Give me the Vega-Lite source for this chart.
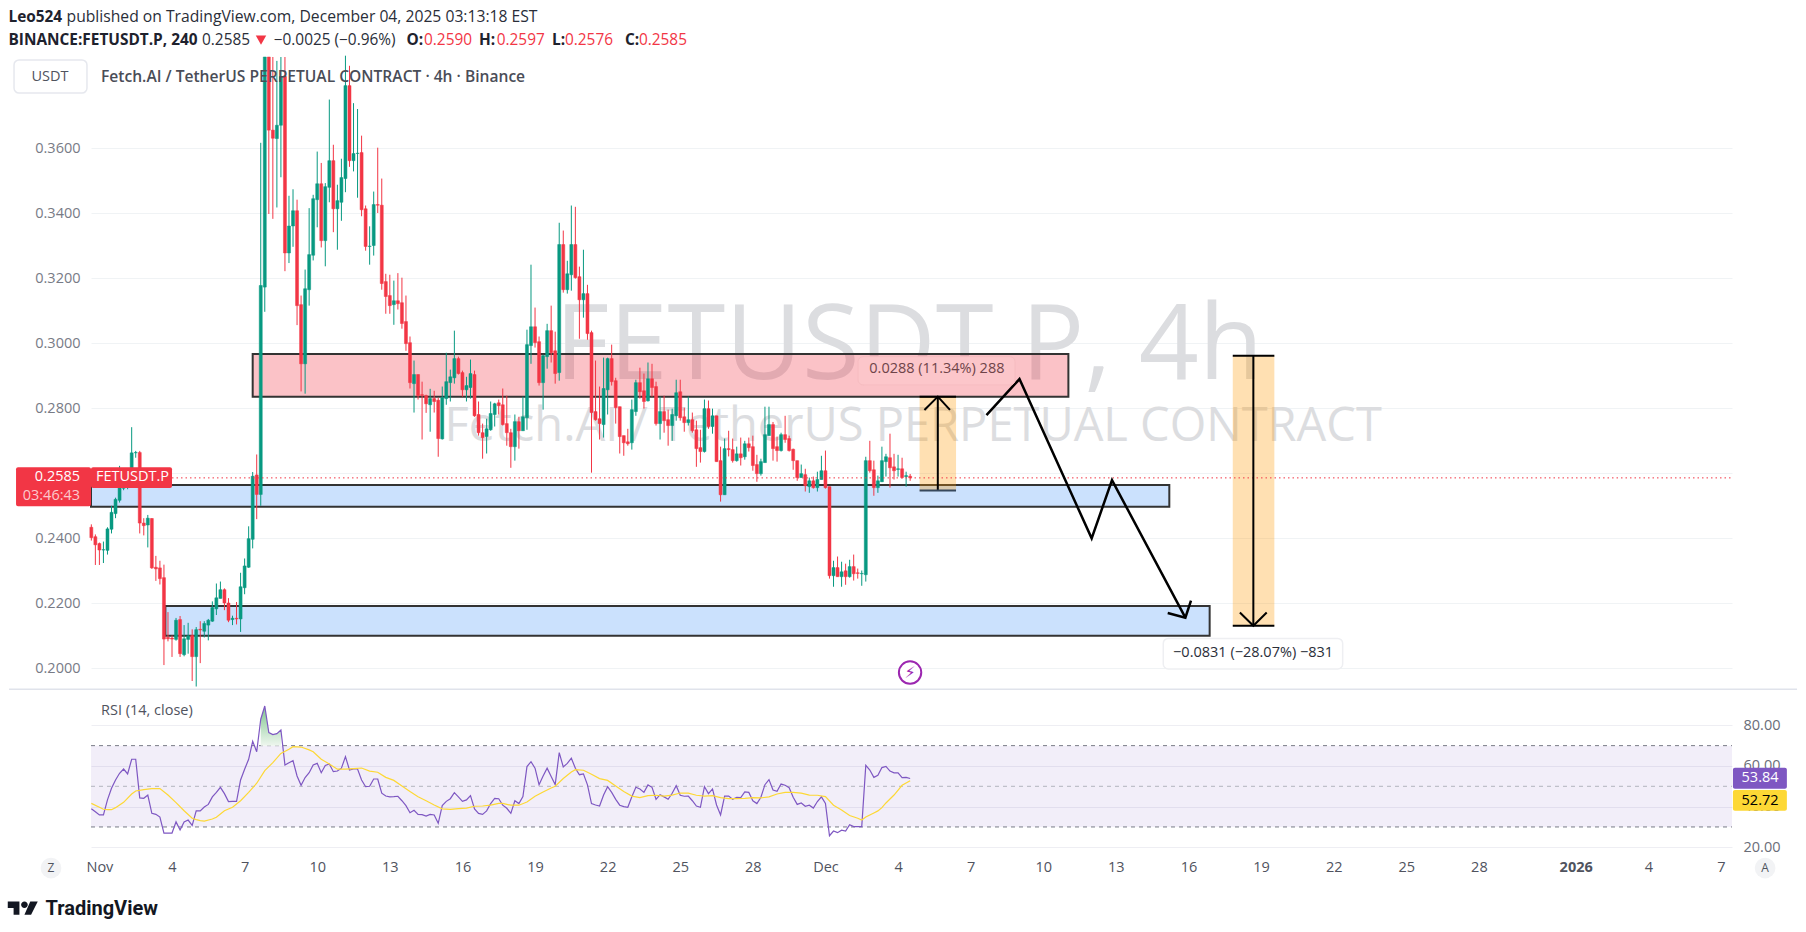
{
"$schema":"https://vega.github.io/schema/vega-lite/v6.json",
"description":"FETUSDT.P 4h candles with RSI and drawn zones",
"width":1641,"height":932,"autosize":"none",
"padding":{"left":91,"right":74,"top":0,"bottom":0},
"background":"#ffffff",
"config":{"view":{"stroke":null},"font":"Open Sans"},
"datasets":{"bars":[
{"t":"2025-10-31T16:00","o":0.2433,"h":0.2442,"l":0.2392,"c":0.2401,"rsi":39.0,"ma":41.6},
{"t":"2025-10-31T20:00","o":0.2404,"h":0.2411,"l":0.2317,"c":0.2379,"rsi":37.5},
{"t":"2025-11-01T00:00","o":0.2383,"h":0.2386,"l":0.2317,"c":0.2363,"rsi":35.9,"ma":39.7},
{"t":"2025-11-01T04:00","o":0.2363,"h":0.2389,"l":0.2323,"c":0.2364,"rsi":35.9,"ma":38.7},
{"t":"2025-11-01T08:00","o":0.2362,"h":0.2433,"l":0.2349,"c":0.2428,"rsi":43.3,"ma":38.5},
{"t":"2025-11-01T12:00","o":0.2427,"h":0.2499,"l":0.2414,"c":0.2479,"rsi":49.0,"ma":38.5},
{"t":"2025-11-01T16:00","o":0.2475,"h":0.2524,"l":0.2461,"c":0.2519,"rsi":53.1,"ma":39.5},
{"t":"2025-11-01T20:00","o":0.2516,"h":0.2622,"l":0.2509,"c":0.2559,"rsi":56.4},
{"t":"2025-11-02T00:00","o":0.2553,"h":0.2565,"l":0.2547,"c":0.2557,"rsi":58.5,"ma":42.1},
{"t":"2025-11-02T04:00","o":0.2557,"h":0.2607,"l":0.2550,"c":0.2597,"rsi":56.1},
{"t":"2025-11-02T08:00","o":0.2597,"h":0.2741,"l":0.2594,"c":0.2662,"rsi":63.3,"ma":46.2},
{"t":"2025-11-02T12:00","o":0.2662,"h":0.2668,"l":0.2647,"c":0.2663,"rsi":63.3,"ma":47.7},
{"t":"2025-11-02T16:00","o":0.2663,"h":0.2668,"l":0.2414,"c":0.2446,"rsi":44.3},
{"t":"2025-11-02T20:00","o":0.2446,"h":0.2461,"l":0.2408,"c":0.2438,"rsi":44.1,"ma":48.4},
{"t":"2025-11-03T00:00","o":0.2440,"h":0.2471,"l":0.2371,"c":0.2461,"rsi":45.7},
{"t":"2025-11-03T04:00","o":0.2460,"h":0.2461,"l":0.2305,"c":0.2308,"rsi":36.7,"ma":48.9},
{"t":"2025-11-03T08:00","o":0.2310,"h":0.2345,"l":0.2268,"c":0.2305,"rsi":36.2},
{"t":"2025-11-03T12:00","o":0.2308,"h":0.2330,"l":0.2257,"c":0.2275,"rsi":34.9,"ma":48.9},
{"t":"2025-11-03T16:00","o":0.2278,"h":0.2318,"l":0.2009,"c":0.2089,"rsi":27.0},
{"t":"2025-11-03T20:00","o":0.2094,"h":0.2172,"l":0.2082,"c":0.2090,"rsi":27.0,"ma":45.7},
{"t":"2025-11-04T00:00","o":0.2092,"h":0.2100,"l":0.2034,"c":0.2089,"rsi":27.0},
{"t":"2025-11-04T04:00","o":0.2088,"h":0.2154,"l":0.2084,"c":0.2147,"rsi":32.5,"ma":42.0},
{"t":"2025-11-04T08:00","o":0.2149,"h":0.2160,"l":0.2034,"c":0.2044,"rsi":28.5},
{"t":"2025-11-04T12:00","o":0.2041,"h":0.2132,"l":0.2036,"c":0.2090,"rsi":32.5,"ma":38.0},
{"t":"2025-11-04T16:00","o":0.2088,"h":0.2139,"l":0.2044,"c":0.2099,"rsi":33.4},
{"t":"2025-11-04T20:00","o":0.2100,"h":0.2119,"l":0.1960,"c":0.2035,"rsi":30.8,"ma":34.3},
{"t":"2025-11-05T00:00","o":0.2035,"h":0.2126,"l":0.1943,"c":0.2118,"rsi":37.9,"ma":33.6},
{"t":"2025-11-05T04:00","o":0.2119,"h":0.2144,"l":0.2015,"c":0.2117,"rsi":37.9,"ma":33.1},
{"t":"2025-11-05T08:00","o":0.2113,"h":0.2144,"l":0.2094,"c":0.2137,"rsi":39.8,"ma":32.9},
{"t":"2025-11-05T12:00","o":0.2132,"h":0.2151,"l":0.2085,"c":0.2147,"rsi":41.1},
{"t":"2025-11-05T16:00","o":0.2144,"h":0.2205,"l":0.2142,"c":0.2186,"rsi":44.8,"ma":33.9},
{"t":"2025-11-05T20:00","o":0.2182,"h":0.2260,"l":0.2163,"c":0.2216,"rsi":47.0,"ma":34.8},
{"t":"2025-11-06T00:00","o":0.2214,"h":0.2266,"l":0.2214,"c":0.2241,"rsi":49.5},
{"t":"2025-11-06T04:00","o":0.2241,"h":0.2245,"l":0.2178,"c":0.2200,"rsi":46.4,"ma":38.0},
{"t":"2025-11-06T08:00","o":0.2200,"h":0.2215,"l":0.2141,"c":0.2147,"rsi":42.5},
{"t":"2025-11-06T12:00","o":0.2149,"h":0.2161,"l":0.2132,"c":0.2153,"rsi":42.6,"ma":39.7},
{"t":"2025-11-06T16:00","o":0.2153,"h":0.2203,"l":0.2134,"c":0.2151,"rsi":42.6},
{"t":"2025-11-06T20:00","o":0.2151,"h":0.2293,"l":0.2111,"c":0.2250,"rsi":53.1,"ma":42.9},
{"t":"2025-11-07T00:00","o":0.2247,"h":0.2337,"l":0.2227,"c":0.2314,"rsi":58.4},
{"t":"2025-11-07T04:00","o":0.2310,"h":0.2436,"l":0.2308,"c":0.2398,"rsi":63.3,"ma":47.0},
{"t":"2025-11-07T08:00","o":0.2396,"h":0.2603,"l":0.2368,"c":0.2590,"rsi":72.1},
{"t":"2025-11-07T12:00","o":0.2594,"h":0.2657,"l":0.2458,"c":0.2534,"rsi":67.0,"ma":51.5},
{"t":"2025-11-07T16:00","o":0.2534,"h":0.3616,"l":0.2499,"c":0.3177,"rsi":83.0},
{"t":"2025-11-07T20:00","o":0.3172,"h":0.388,"l":0.3096,"c":0.388,"rsi":89.5,"ma":57.7},
{"t":"2025-11-08T00:00","o":0.388,"h":0.388,"l":0.3397,"c":0.3655,"rsi":76.4},
{"t":"2025-11-08T04:00","o":0.3655,"h":0.388,"l":0.3382,"c":0.3630,"rsi":75.4,"ma":61.6},
{"t":"2025-11-08T08:00","o":0.3629,"h":0.3868,"l":0.3417,"c":0.3670,"rsi":75.9},
{"t":"2025-11-08T12:00","o":0.3670,"h":0.388,"l":0.3510,"c":0.382,"rsi":77.7,"ma":66.2},
{"t":"2025-11-08T16:00","o":0.382,"h":0.388,"l":0.3221,"c":0.3277,"rsi":60.5},
{"t":"2025-11-08T20:00","o":0.3277,"h":0.3453,"l":0.3246,"c":0.3360,"rsi":61.6,"ma":68.2},
{"t":"2025-11-09T00:00","o":0.3360,"h":0.3473,"l":0.3296,"c":0.3407,"rsi":62.6,"ma":69.5},
{"t":"2025-11-09T04:00","o":0.3407,"h":0.3441,"l":0.3055,"c":0.3115,"rsi":55.1},
{"t":"2025-11-09T08:00","o":0.3118,"h":0.3146,"l":0.2851,"c":0.2936,"rsi":50.5,"ma":69.3},
{"t":"2025-11-09T12:00","o":0.2936,"h":0.3226,"l":0.2844,"c":0.3167,"rsi":54.3},
{"t":"2025-11-09T16:00","o":0.3164,"h":0.3415,"l":0.3115,"c":0.3272,"rsi":56.7,"ma":67.9},
{"t":"2025-11-09T20:00","o":0.3270,"h":0.3456,"l":0.3254,"c":0.3444,"rsi":60.5,"ma":67.0},
{"t":"2025-11-10T00:00","o":0.3441,"h":0.3589,"l":0.3356,"c":0.3490,"rsi":61.3},
{"t":"2025-11-10T04:00","o":0.3490,"h":0.3554,"l":0.3294,"c":0.3315,"rsi":56.7,"ma":63.3},
{"t":"2025-11-10T08:00","o":0.3315,"h":0.3492,"l":0.3236,"c":0.3481,"rsi":60.2},
{"t":"2025-11-10T12:00","o":0.3479,"h":0.3749,"l":0.3433,"c":0.3561,"rsi":61.0,"ma":61.0},
{"t":"2025-11-10T16:00","o":0.3561,"h":0.3610,"l":0.3341,"c":0.3413,"rsi":57.2},
{"t":"2025-11-10T20:00","o":0.3413,"h":0.3487,"l":0.3287,"c":0.3438,"rsi":57.5,"ma":58.4},
{"t":"2025-11-11T00:00","o":0.3433,"h":0.3567,"l":0.3376,"c":0.3509,"rsi":58.9},
{"t":"2025-11-11T04:00","o":0.3506,"h":0.3884,"l":0.3464,"c":0.3792,"rsi":64.6,"ma":58.4},
{"t":"2025-11-11T08:00","o":0.3792,"h":0.3853,"l":0.3542,"c":0.3561,"rsi":58.0},
{"t":"2025-11-11T12:00","o":0.3561,"h":0.3738,"l":0.3528,"c":0.3583,"rsi":58.5,"ma":58.7},
{"t":"2025-11-11T16:00","o":0.3583,"h":0.3720,"l":0.3447,"c":0.3584,"rsi":58.5},
{"t":"2025-11-11T20:00","o":0.3586,"h":0.3638,"l":0.3390,"c":0.3410,"rsi":53.1,"ma":59.0},
{"t":"2025-11-12T00:00","o":0.3413,"h":0.3423,"l":0.3284,"c":0.3297,"rsi":49.8},
{"t":"2025-11-12T04:00","o":0.3297,"h":0.3359,"l":0.3241,"c":0.3298,"rsi":50.0,"ma":57.5},
{"t":"2025-11-12T08:00","o":0.3300,"h":0.3466,"l":0.3269,"c":0.3426,"rsi":53.6},
{"t":"2025-11-12T12:00","o":0.3426,"h":0.3601,"l":0.3400,"c":0.3424,"rsi":53.6,"ma":56.9},
{"t":"2025-11-12T16:00","o":0.3424,"h":0.3506,"l":0.3164,"c":0.3183,"rsi":46.6},
{"t":"2025-11-12T20:00","o":0.3189,"h":0.3213,"l":0.3090,"c":0.3143,"rsi":45.2,"ma":54.4},
{"t":"2025-11-13T00:00","o":0.3146,"h":0.3210,"l":0.3090,"c":0.3115,"rsi":44.8},
{"t":"2025-11-13T04:00","o":0.3118,"h":0.3192,"l":0.3056,"c":0.3130,"rsi":44.9,"ma":52.9},
{"t":"2025-11-13T08:00","o":0.3130,"h":0.3215,"l":0.3103,"c":0.3121,"rsi":45.1},
{"t":"2025-11-13T12:00","o":0.3124,"h":0.3201,"l":0.3044,"c":0.3060,"rsi":42.9,"ma":50.2},
{"t":"2025-11-13T16:00","o":0.3066,"h":0.3146,"l":0.2976,"c":0.2998,"rsi":40.5},
{"t":"2025-11-13T20:00","o":0.3001,"h":0.3020,"l":0.2860,"c":0.2878,"rsi":37.0,"ma":47.4},
{"t":"2025-11-14T00:00","o":0.2875,"h":0.2946,"l":0.2786,"c":0.2903,"rsi":38.2},
{"t":"2025-11-14T04:00","o":0.2903,"h":0.2903,"l":0.2826,"c":0.2838,"rsi":36.2,"ma":44.9},
{"t":"2025-11-14T08:00","o":0.2841,"h":0.2881,"l":0.2703,"c":0.2839,"rsi":36.1},
{"t":"2025-11-14T12:00","o":0.2838,"h":0.2841,"l":0.2785,"c":0.2813,"rsi":35.4,"ma":42.9},
{"t":"2025-11-14T16:00","o":0.2810,"h":0.2859,"l":0.2727,"c":0.2829,"rsi":36.2},
{"t":"2025-11-14T20:00","o":0.2829,"h":0.2853,"l":0.2786,"c":0.2820,"rsi":35.9,"ma":40.8},
{"t":"2025-11-15T00:00","o":0.2824,"h":0.2832,"l":0.2650,"c":0.2706,"rsi":31.8},
{"t":"2025-11-15T04:00","o":0.2705,"h":0.2866,"l":0.2703,"c":0.2832,"rsi":40.5,"ma":38.9},
{"t":"2025-11-15T08:00","o":0.2829,"h":0.2970,"l":0.2810,"c":0.2881,"rsi":42.6},
{"t":"2025-11-15T12:00","o":0.2878,"h":0.2918,"l":0.2820,"c":0.2896,"rsi":43.9,"ma":38.7},
{"t":"2025-11-15T16:00","o":0.2893,"h":0.3038,"l":0.2875,"c":0.2952,"rsi":46.9},
{"t":"2025-11-15T20:00","o":0.2952,"h":0.2958,"l":0.2903,"c":0.2906,"rsi":44.8,"ma":39.0},
{"t":"2025-11-16T00:00","o":0.2909,"h":0.2915,"l":0.2835,"c":0.2856,"rsi":42.6},
{"t":"2025-11-16T04:00","o":0.2856,"h":0.2896,"l":0.2820,"c":0.2869,"rsi":43.3,"ma":39.3},
{"t":"2025-11-16T08:00","o":0.2863,"h":0.2949,"l":0.2829,"c":0.2906,"rsi":45.4},
{"t":"2025-11-16T12:00","o":0.2903,"h":0.2915,"l":0.2773,"c":0.2776,"rsi":38.9,"ma":40.2},
{"t":"2025-11-16T16:00","o":0.2780,"h":0.2820,"l":0.2715,"c":0.2724,"rsi":36.7},
{"t":"2025-11-16T20:00","o":0.2724,"h":0.2752,"l":0.2644,"c":0.2709,"rsi":36.2,"ma":40.3},
{"t":"2025-11-17T00:00","o":0.2712,"h":0.2767,"l":0.2660,"c":0.2736,"rsi":37.9},
{"t":"2025-11-17T04:00","o":0.2733,"h":0.2820,"l":0.2730,"c":0.2783,"rsi":41.5,"ma":40.7},
{"t":"2025-11-17T08:00","o":0.2780,"h":0.2816,"l":0.2743,"c":0.2813,"rsi":44.1},
{"t":"2025-11-17T12:00","o":0.2816,"h":0.2826,"l":0.2780,"c":0.2807,"rsi":43.9,"ma":41.6},
{"t":"2025-11-17T16:00","o":0.2810,"h":0.2860,"l":0.2746,"c":0.2749,"rsi":40.7,"ma":41.6},
{"t":"2025-11-17T20:00","o":0.2752,"h":0.2838,"l":0.2684,"c":0.2724,"rsi":39.2},
{"t":"2025-11-18T00:00","o":0.2724,"h":0.2736,"l":0.2616,"c":0.2681,"rsi":36.7,"ma":40.7},
{"t":"2025-11-18T04:00","o":0.2681,"h":0.2780,"l":0.2638,"c":0.2758,"rsi":42.9},
{"t":"2025-11-18T08:00","o":0.2758,"h":0.2773,"l":0.2675,"c":0.2730,"rsi":41.5,"ma":40.7},
{"t":"2025-11-18T12:00","o":0.2730,"h":0.2835,"l":0.2730,"c":0.2773,"rsi":44.9},
{"t":"2025-11-18T16:00","o":0.2770,"h":0.3041,"l":0.2733,"c":0.2995,"rsi":59.7,"ma":42.3},
{"t":"2025-11-18T20:00","o":0.2992,"h":0.3241,"l":0.2936,"c":0.3050,"rsi":62.1},
{"t":"2025-11-19T00:00","o":0.3050,"h":0.3109,"l":0.2986,"c":0.3001,"rsi":58.9,"ma":45.1},
{"t":"2025-11-19T04:00","o":0.3004,"h":0.3020,"l":0.2869,"c":0.2878,"rsi":50.8},
{"t":"2025-11-19T08:00","o":0.2878,"h":0.2964,"l":0.2795,"c":0.2961,"rsi":55.1,"ma":47.2},
{"t":"2025-11-19T12:00","o":0.2958,"h":0.3059,"l":0.2921,"c":0.3038,"rsi":58.9},
{"t":"2025-11-19T16:00","o":0.3038,"h":0.3115,"l":0.2940,"c":0.2970,"rsi":54.8,"ma":49.2},
{"t":"2025-11-19T20:00","o":0.2976,"h":0.3035,"l":0.2875,"c":0.2906,"rsi":50.8,"ma":50.0},
{"t":"2025-11-20T00:00","o":0.2909,"h":0.3370,"l":0.2884,"c":0.3303,"rsi":66.6},
{"t":"2025-11-20T04:00","o":0.3303,"h":0.3346,"l":0.3155,"c":0.3164,"rsi":59.5,"ma":53.8},
{"t":"2025-11-20T08:00","o":0.3164,"h":0.3253,"l":0.3152,"c":0.3213,"rsi":61.3},
{"t":"2025-11-20T12:00","o":0.3210,"h":0.3423,"l":0.3161,"c":0.3303,"rsi":63.8,"ma":57.0},
{"t":"2025-11-20T16:00","o":0.3303,"h":0.3419,"l":0.3198,"c":0.3201,"rsi":58.9,"ma":58.2},
{"t":"2025-11-20T20:00","o":0.3204,"h":0.3235,"l":0.3013,"c":0.3133,"rsi":55.7},
{"t":"2025-11-21T00:00","o":0.3133,"h":0.3287,"l":0.3078,"c":0.3152,"rsi":56.1,"ma":57.9},
{"t":"2025-11-21T04:00","o":0.3152,"h":0.3179,"l":0.3010,"c":0.3029,"rsi":50.7},
{"t":"2025-11-21T08:00","o":0.3032,"h":0.3038,"l":0.2601,"c":0.2786,"rsi":41.5,"ma":55.9},
{"t":"2025-11-21T12:00","o":0.2789,"h":0.2946,"l":0.2761,"c":0.2764,"rsi":40.8},
{"t":"2025-11-21T16:00","o":0.2767,"h":0.2866,"l":0.2703,"c":0.2752,"rsi":40.3,"ma":53.8},
{"t":"2025-11-21T20:00","o":0.2749,"h":0.2955,"l":0.2709,"c":0.2860,"rsi":45.7},
{"t":"2025-11-22T00:00","o":0.2856,"h":0.2955,"l":0.2780,"c":0.2952,"rsi":49.8,"ma":52.9},
{"t":"2025-11-22T04:00","o":0.2952,"h":0.2995,"l":0.2869,"c":0.2881,"rsi":47.0},
{"t":"2025-11-22T08:00","o":0.2884,"h":0.2893,"l":0.2752,"c":0.2801,"rsi":43.6,"ma":50.2},
{"t":"2025-11-22T12:00","o":0.2804,"h":0.2804,"l":0.2660,"c":0.2712,"rsi":40.7},
{"t":"2025-11-22T16:00","o":0.2715,"h":0.2715,"l":0.2653,"c":0.2693,"rsi":40.0,"ma":47.4},
{"t":"2025-11-22T20:00","o":0.2696,"h":0.2736,"l":0.2684,"c":0.2690,"rsi":39.7},
{"t":"2025-11-23T00:00","o":0.2693,"h":0.2826,"l":0.2672,"c":0.2795,"rsi":44.9,"ma":45.2},
{"t":"2025-11-23T04:00","o":0.2789,"h":0.2887,"l":0.2776,"c":0.2878,"rsi":49.5},
{"t":"2025-11-23T08:00","o":0.2878,"h":0.2924,"l":0.2829,"c":0.2850,"rsi":48.7,"ma":44.4},
{"t":"2025-11-23T12:00","o":0.2853,"h":0.2906,"l":0.2798,"c":0.2820,"rsi":47.0},
{"t":"2025-11-23T16:00","o":0.2822,"h":0.2940,"l":0.2820,"c":0.2890,"rsi":50.7,"ma":45.4},
{"t":"2025-11-23T20:00","o":0.2890,"h":0.2936,"l":0.2835,"c":0.2863,"rsi":49.5},
{"t":"2025-11-24T00:00","o":0.2866,"h":0.2881,"l":0.2746,"c":0.2752,"rsi":43.6,"ma":45.6},
{"t":"2025-11-24T04:00","o":0.2752,"h":0.2835,"l":0.2703,"c":0.2789,"rsi":45.9},
{"t":"2025-11-24T08:00","o":0.2789,"h":0.2838,"l":0.2724,"c":0.2761,"rsi":44.8,"ma":45.2},
{"t":"2025-11-24T12:00","o":0.2764,"h":0.2795,"l":0.2684,"c":0.2746,"rsi":43.6},
{"t":"2025-11-24T16:00","o":0.2746,"h":0.2798,"l":0.2699,"c":0.2780,"rsi":46.6,"ma":45.7},
{"t":"2025-11-24T20:00","o":0.2776,"h":0.2887,"l":0.2761,"c":0.2847,"rsi":50.3},
{"t":"2025-11-25T00:00","o":0.2850,"h":0.2887,"l":0.2761,"c":0.2770,"rsi":45.6,"ma":46.7},
{"t":"2025-11-25T04:00","o":0.2773,"h":0.2801,"l":0.2727,"c":0.2755,"rsi":45.1},
{"t":"2025-11-25T08:00","o":0.2755,"h":0.2835,"l":0.2746,"c":0.2764,"rsi":45.2,"ma":46.6},
{"t":"2025-11-25T12:00","o":0.2764,"h":0.2786,"l":0.2724,"c":0.2730,"rsi":42.9},
{"t":"2025-11-25T16:00","o":0.2733,"h":0.2761,"l":0.2619,"c":0.2675,"rsi":40.3,"ma":45.6},
{"t":"2025-11-25T20:00","o":0.2678,"h":0.2733,"l":0.2632,"c":0.2666,"rsi":39.7},
{"t":"2025-11-26T00:00","o":0.2666,"h":0.2826,"l":0.2663,"c":0.2798,"rsi":49.8,"ma":45.2},
{"t":"2025-11-26T04:00","o":0.2798,"h":0.2823,"l":0.2736,"c":0.2743,"rsi":46.4},
{"t":"2025-11-26T08:00","o":0.2743,"h":0.2798,"l":0.2721,"c":0.2776,"rsi":48.7,"ma":45.4},
{"t":"2025-11-26T12:00","o":0.2776,"h":0.2776,"l":0.2635,"c":0.2635,"rsi":40.8},
{"t":"2025-11-26T16:00","o":0.2638,"h":0.2681,"l":0.2512,"c":0.2533,"rsi":35.9,"ma":44.4},
{"t":"2025-11-26T20:00","o":0.2533,"h":0.2706,"l":0.2533,"c":0.2675,"rsi":45.2},
{"t":"2025-11-27T00:00","o":0.2675,"h":0.2730,"l":0.2651,"c":0.2672,"rsi":45.2,"ma":43.9},
{"t":"2025-11-27T04:00","o":0.2672,"h":0.2706,"l":0.2632,"c":0.2638,"rsi":43.6},
{"t":"2025-11-27T08:00","o":0.2638,"h":0.2681,"l":0.2635,"c":0.2659,"rsi":44.6,"ma":43.9},
{"t":"2025-11-27T12:00","o":0.2659,"h":0.2709,"l":0.2623,"c":0.2647,"rsi":44.4},
{"t":"2025-11-27T16:00","o":0.2650,"h":0.2699,"l":0.2641,"c":0.2690,"rsi":47.2,"ma":44.1},
{"t":"2025-11-27T20:00","o":0.2690,"h":0.2709,"l":0.2666,"c":0.2678,"rsi":47.0},
{"t":"2025-11-28T00:00","o":0.2681,"h":0.2715,"l":0.2607,"c":0.2623,"rsi":42.9,"ma":44.4},
{"t":"2025-11-28T04:00","o":0.2626,"h":0.2656,"l":0.2573,"c":0.2598,"rsi":41.5},
{"t":"2025-11-28T08:00","o":0.2598,"h":0.2644,"l":0.2592,"c":0.2635,"rsi":44.6,"ma":44.3},
{"t":"2025-11-28T12:00","o":0.2632,"h":0.2804,"l":0.2632,"c":0.2718,"rsi":50.8},
{"t":"2025-11-28T16:00","o":0.2715,"h":0.2804,"l":0.2715,"c":0.2749,"rsi":53.3,"ma":44.8},
{"t":"2025-11-28T20:00","o":0.2749,"h":0.2757,"l":0.2638,"c":0.2675,"rsi":48.2},
{"t":"2025-11-29T00:00","o":0.2681,"h":0.2712,"l":0.2635,"c":0.2669,"rsi":47.5,"ma":46.2},
{"t":"2025-11-29T04:00","o":0.2669,"h":0.2724,"l":0.2666,"c":0.2718,"rsi":51.1},
{"t":"2025-11-29T08:00","o":0.2718,"h":0.2776,"l":0.2693,"c":0.2703,"rsi":50.5,"ma":47.0},
{"t":"2025-11-29T12:00","o":0.2706,"h":0.2715,"l":0.2666,"c":0.2669,"rsi":49.3},
{"t":"2025-11-29T16:00","o":0.2673,"h":0.2675,"l":0.2610,"c":0.2638,"rsi":44.6,"ma":47.0},
{"t":"2025-11-29T20:00","o":0.2638,"h":0.2638,"l":0.2576,"c":0.2586,"rsi":41.1},
{"t":"2025-11-30T00:00","o":0.2586,"h":0.2626,"l":0.2586,"c":0.2598,"rsi":41.8,"ma":46.6},
{"t":"2025-11-30T04:00","o":0.2595,"h":0.2613,"l":0.2543,"c":0.2561,"rsi":40.2},
{"t":"2025-11-30T08:00","o":0.2558,"h":0.2586,"l":0.2539,"c":0.2576,"rsi":40.7,"ma":45.7},
{"t":"2025-11-30T12:00","o":0.2576,"h":0.2589,"l":0.2552,"c":0.2555,"rsi":39.3},
{"t":"2025-11-30T16:00","o":0.2555,"h":0.2604,"l":0.2543,"c":0.2580,"rsi":42.5,"ma":45.6},
{"t":"2025-11-30T20:00","o":0.2580,"h":0.2653,"l":0.2580,"c":0.2607,"rsi":44.8},
{"t":"2025-12-01T00:00","o":0.2607,"h":0.2669,"l":0.2552,"c":0.2555,"rsi":41.6,"ma":44.9},
{"t":"2025-12-01T04:00","o":0.2558,"h":0.2558,"l":0.2275,"c":0.2284,"rsi":25.7},
{"t":"2025-12-01T08:00","o":0.2284,"h":0.2330,"l":0.2250,"c":0.2309,"rsi":28.0,"ma":40.7},
{"t":"2025-12-01T12:00","o":0.2309,"h":0.2343,"l":0.2281,"c":0.2281,"rsi":27.2},
{"t":"2025-12-01T16:00","o":0.2281,"h":0.2327,"l":0.2250,"c":0.2296,"rsi":28.4,"ma":38.4},
{"t":"2025-12-01T20:00","o":0.2299,"h":0.2321,"l":0.2256,"c":0.2281,"rsi":28.0},
{"t":"2025-12-02T00:00","o":0.2281,"h":0.2333,"l":0.2278,"c":0.2312,"rsi":31.1,"ma":35.6},
{"t":"2025-12-02T04:00","o":0.2312,"h":0.2349,"l":0.2269,"c":0.2290,"rsi":30.2},
{"t":"2025-12-02T08:00","o":0.2293,"h":0.2306,"l":0.2275,"c":0.2291,"rsi":30.2,"ma":34.3},
{"t":"2025-12-02T12:00","o":0.2290,"h":0.2300,"l":0.2253,"c":0.2291,"rsi":30.2,"ma":33.4},
{"t":"2025-12-02T16:00","o":0.2287,"h":0.2650,"l":0.2266,"c":0.2638,"rsi":60.3,"ma":34.9},
{"t":"2025-12-02T20:00","o":0.2638,"h":0.2699,"l":0.2601,"c":0.2607,"rsi":58.0},
{"t":"2025-12-03T00:00","o":0.2610,"h":0.2638,"l":0.2530,"c":0.2555,"rsi":54.4,"ma":36.9},
{"t":"2025-12-03T04:00","o":0.2555,"h":0.2592,"l":0.2539,"c":0.2576,"rsi":55.4,"ma":37.9},
{"t":"2025-12-03T08:00","o":0.2573,"h":0.2681,"l":0.2573,"c":0.2638,"rsi":59.2,"ma":39.5},
{"t":"2025-12-03T12:00","o":0.2635,"h":0.2659,"l":0.2589,"c":0.2650,"rsi":59.8,"ma":41.8},
{"t":"2025-12-03T16:00","o":0.2647,"h":0.2721,"l":0.2555,"c":0.2616,"rsi":57.5},
{"t":"2025-12-03T20:00","o":0.2619,"h":0.2659,"l":0.2580,"c":0.2607,"rsi":56.6,"ma":45.7},
{"t":"2025-12-04T00:00","o":0.2611,"h":0.2656,"l":0.2589,"c":0.2613,"rsi":56.6},
{"t":"2025-12-04T04:00","o":0.2613,"h":0.2647,"l":0.2583,"c":0.2586,"rsi":54.3,"ma":50.5},
{"t":"2025-12-04T08:00","o":0.2589,"h":0.2604,"l":0.2558,"c":0.2592,"rsi":54.4},
{"t":"2025-12-04T12:00","o":0.2590,"h":0.2597,"l":0.2576,"c":0.2585,"rsi":53.84,"ma":52.72}
]},
"encoding":{"x":{"field":"t","type":"temporal","title":null,
"scale":{"domain":["2025-10-31T15:40","2026-01-07T11:00"],"padding":0},
"axis":{"orient":"bottom","offset":-72,"grid":false,"domain":false,"ticks":false,"labelPadding":0,"labelFlush":false,"labelOverlap":false,"labelFont":"Open Sans","labelFontSize":14.5,"labelColor":"#50535e","labelBaseline":"top",
"values":["2025-11-01T00:00","2025-11-04T00:00","2025-11-07T00:00","2025-11-10T00:00","2025-11-13T00:00","2025-11-16T00:00","2025-11-19T00:00","2025-11-22T00:00","2025-11-25T00:00","2025-11-28T00:00","2025-12-01T00:00","2025-12-04T00:00","2025-12-07T00:00","2025-12-10T00:00","2025-12-13T00:00","2025-12-16T00:00","2025-12-19T00:00","2025-12-22T00:00","2025-12-25T00:00","2025-12-28T00:00","2026-01-01T00:00","2026-01-04T00:00","2026-01-07T00:00"],
"labelExpr":"date(datum.value)==1 ? (month(datum.value)==0 ? '2026' : timeFormat(datum.value,'%b')) : timeFormat(datum.value,'%-d')",
"labelFontWeight":{"condition":{"test":"month(datum.value)==0 && date(datum.value)==1","value":"bold"},"value":"normal"}}}},
"resolve":{"scale":{"y":"independent"},"axis":{"y":"independent"}},
"layer":[
{"encoding":{"y":{"field":"p","type":"quantitative","title":null,
"scale":{"domain":[0.2,0.36],"range":[668,148],"nice":false,"zero":false},
"axis":{"orient":"left","values":[0.2,0.22,0.24,0.26,0.28,0.3,0.32,0.34,0.36,0.38],"format":".4f","domain":false,"ticks":false,"grid":true,"gridColor":"#f0f3f5","gridWidth":1,"labelPadding":11,"labelFont":"Open Sans","labelFontSize":14.5,"labelColor":"#787b86"}}},
"layer":[
{"data":{"values":[{"t":"2025-12-04T11:00","p":0.2989,"label":"FETUSDT.P, 4h"}]},"mark":{"type":"text","font":"Open Sans","fontSize":105,"color":"#dcdde0","align":"center","baseline":"middle"},"encoding":{"text":{"field":"label"}}},
{"data":{"values":[{"t":"2025-12-04T14:55","p":0.2741,"label":"Fetch.AI / TetherUS PERPETUAL CONTRACT"}]},"mark":{"type":"text","font":"Open Sans","fontSize":47,"color":"#dcdde0","align":"center","baseline":"middle"},"encoding":{"text":{"field":"label"}}},
{"data":{"values":[{"t":"2025-11-07T08:00","t2":"2025-12-11T00:55","p":0.2966,"p2":0.2835}]},"mark":{"type":"rect","fill":"#f23645","fillOpacity":0.3,"stroke":"#333333","strokeWidth":2},"encoding":{"x2":{"field":"t2"},"y2":{"field":"p2"}}},
{"data":{"values":[{"t":"2025-10-31T15:40","t2":"2025-12-15T05:00","p":0.2563,"p2":0.2496},{"t":"2025-11-03T17:25","t2":"2025-12-16T21:00","p":0.2191,"p2":0.2099}]},"mark":{"type":"rect","fill":"#cbe1fd","stroke":"#333333","strokeWidth":2},"encoding":{"x2":{"field":"t2"},"y2":{"field":"p2"}}},
{"data":{"name":"bars"},"mark":{"type":"rule","strokeWidth":1},"encoding":{
"y":{"field":"h","type":"quantitative","title":null,"scale":{"domain":[0.2,0.36],"range":[668,148],"nice":false,"zero":false},
"axis":{"orient":"left","values":[0.2,0.22,0.24,0.26,0.28,0.3,0.32,0.34,0.36,0.38],"format":".4f","domain":false,"ticks":false,"grid":true,"gridColor":"#f0f3f5","gridWidth":1,"labelPadding":11,"labelFont":"Open Sans","labelFontSize":14.5,"labelColor":"#787b86"}},"y2":{"field":"l"},
"color":{"condition":{"test":"datum.c>=datum.o","value":"#089981"},"value":"#f23645"}}},
{"data":{"name":"bars"},"mark":{"type":"bar","size":3,"strokeWidth":0.5},"encoding":{
"y":{"field":"o","type":"quantitative","title":null,"scale":{"domain":[0.2,0.36],"range":[668,148],"nice":false,"zero":false},
"axis":{"orient":"left","values":[0.2,0.22,0.24,0.26,0.28,0.3,0.32,0.34,0.36,0.38],"format":".4f","domain":false,"ticks":false,"grid":true,"gridColor":"#f0f3f5","gridWidth":1,"labelPadding":11,"labelFont":"Open Sans","labelFontSize":14.5,"labelColor":"#787b86"}},"y2":{"field":"c"},
"color":{"condition":{"test":"datum.c>=datum.o","value":"#089981"},"value":"#f23645"},
"stroke":{"condition":{"test":"datum.c>=datum.o","value":"#089981"},"value":"#f23645"}}},
{"data":{"values":[{"t":"2025-12-04T21:20","t2":"2025-12-06T09:30","p":0.2835,"p2":0.2546},{"t":"2025-12-17T19:55","t2":"2025-12-19T13:10","p":0.2961,"p2":0.2130}]},"mark":{"type":"rect","fill":"#ff9800","fillOpacity":0.3},"encoding":{"x2":{"field":"t2"},"y2":{"field":"p2"}}},
{"data":{"values":[{"t":"2025-11-04T00:00","t2":"2026-01-07T11:00","p":0.2585}]},"mark":{"type":"rule","color":"#f23645","strokeWidth":1,"strokeDash":[1.5,3]},"encoding":{"x2":{"field":"t2"}}},
{"data":{"values":[
{"seg":"shaft","t":"2025-12-05T15:25","p":0.2546},{"seg":"shaft","t":"2025-12-05T15:25","p":0.2835},
{"seg":"head","t":"2025-12-05T02:10","p":0.2794},{"seg":"head","t":"2025-12-05T15:25","p":0.2835},{"seg":"head","t":"2025-12-06T03:30","p":0.2794},
{"seg":"top","t":"2025-12-04T21:20","p":0.2835},{"seg":"top","t":"2025-12-06T09:30","p":0.2835},
{"seg":"shaft2","t":"2025-12-18T16:20","p":0.2961},{"seg":"shaft2","t":"2025-12-18T16:20","p":0.2130},
{"seg":"head2","t":"2025-12-18T03:00","p":0.2171},{"seg":"head2","t":"2025-12-18T16:20","p":0.2130},{"seg":"head2","t":"2025-12-19T05:35","p":0.2171},
{"seg":"top2","t":"2025-12-17T19:55","p":0.2961},{"seg":"top2","t":"2025-12-19T13:10","p":0.2961},
{"seg":"bottom2","t":"2025-12-17T19:55","p":0.2130},{"seg":"bottom2","t":"2025-12-19T13:10","p":0.2130}
]},"mark":{"type":"line","color":"#000000","strokeWidth":2},"encoding":{"detail":{"field":"seg"}}},
{"data":{"values":[{"t":"2025-12-04T21:20","p":0.2546},{"t":"2025-12-06T09:30","p":0.2546}]},"mark":{"type":"line","color":"#37485c","strokeWidth":2}},
{"data":{"values":[
{"seg":"path","t":"2025-12-07T15:40","p":0.2778},{"seg":"path","t":"2025-12-09T00:25","p":0.2889},{"seg":"path","t":"2025-12-12T00:00","p":0.2399},{"seg":"path","t":"2025-12-12T20:10","p":0.2578},{"seg":"path","t":"2025-12-15T20:55","p":0.2155},
{"seg":"head","t":"2025-12-15T03:25","p":0.2169},{"seg":"head","t":"2025-12-15T20:55","p":0.2155},{"seg":"head","t":"2025-12-16T02:30","p":0.2207}
]},"mark":{"type":"line","color":"#000000","strokeWidth":2.5},"encoding":{"detail":{"field":"seg"}}},
{"data":{"values":[{"t":"2025-12-02T08:20","t2":"2025-12-08T20:00","p":0.2958,"p2":0.2871}]},"mark":{"type":"rect","fill":"#fcc6ca","stroke":"#f6bcc0","strokeWidth":1,"cornerRadius":5},"encoding":{"x2":{"field":"t2"},"y2":{"field":"p2"}}},
{"data":{"values":[{"t":"2025-12-05T14:30","p":0.2920,"label":"0.0288 (11.34%) 288"}]},"mark":{"type":"text","fontSize":14.5,"color":"#6f4449","align":"center","baseline":"middle"},"encoding":{"text":{"field":"label"}}},
{"data":{"values":[{"t":"2025-12-14T23:00","t2":"2025-12-22T08:55","p":0.2091,"p2":0.1997}]},"mark":{"type":"rect","fill":"#ffffff","stroke":"#eeeff2","strokeWidth":1.5,"cornerRadius":5},"encoding":{"x2":{"field":"t2"},"y2":{"field":"p2"}}},
{"data":{"values":[{"t":"2025-12-18T16:05","p":0.2045,"label":"−0.0831 (−28.07%) −831"}]},"mark":{"type":"text","fontSize":14.5,"color":"#2a2e39","align":"center","baseline":"middle"},"encoding":{"text":{"field":"label"}}},
{"data":{"values":[{"t":"2025-12-04T11:55","p":0.1986}]},"mark":{"type":"point","filled":false,"size":500,"stroke":"#9c27b0","strokeWidth":2,"opacity":1,"fill":"#ffffff"}},
{"data":{"values":[{"t":"2025-12-04T11:55","p":0.1986,"label":"⚡"}]},"mark":{"type":"text","font":"DejaVu Sans","fontSize":16,"color":"#9c27b0","align":"center","baseline":"middle"},"encoding":{"text":{"field":"label"}}},
{"data":{"values":[{"t":"2025-10-28T11:20","t2":"2025-10-31T11:40","p":0.3871,"p2":0.3769}]},"mark":{"type":"rect","fill":"#ffffff","stroke":"#e6e8ee","strokeWidth":1.5,"cornerRadius":5},"encoding":{"x2":{"field":"t2"},"y2":{"field":"p2"}}},
{"data":{"values":[{"t":"2025-10-29T23:00","p":0.3818,"label":"USDT"}]},"mark":{"type":"text","fontSize":14.5,"color":"#50535e","align":"center","baseline":"middle"},"encoding":{"text":{"field":"label"}}},
{"data":{"values":[{"t":"2025-11-01T01:35","p":0.3820,"label":"Fetch.AI / TetherUS PERPETUAL CONTRACT · 4h · Binance"}]},"mark":{"type":"text","fontSize":15.6,"fontWeight":600,"color":"#4a4d57","align":"left","baseline":"middle"},"encoding":{"text":{"field":"label"}}},
{"data":{"values":[{"t":"2025-10-28T13:20","t2":"2025-10-31T15:40","p":0.2618,"p2":0.2498},{"t":"2025-10-31T15:40","t2":"2025-11-04T00:00","p":0.2618,"p2":0.2554}]},"mark":{"type":"rect","fill":"#f23645","cornerRadius":2},"encoding":{"x2":{"field":"t2"},"y2":{"field":"p2"}}},
{"data":{"values":[{"t":"2025-10-31T04:50","p":0.2588,"label":"0.2585"}]},"mark":{"type":"text","fontSize":14.5,"color":"#ffffff","align":"right","baseline":"middle","fontWeight":500},"encoding":{"text":{"field":"label"}}},
{"data":{"values":[{"t":"2025-10-31T04:50","p":0.2529,"label":"03:46:43"}]},"mark":{"type":"text","fontSize":14.5,"color":"#fcc9cd","align":"right","baseline":"middle"},"encoding":{"text":{"field":"label"}}},
{"data":{"values":[{"t":"2025-10-31T20:35","p":0.2588,"label":"FETUSDT.P"}]},"mark":{"type":"text","fontSize":14.5,"color":"#ffffff","align":"left","baseline":"middle"},"encoding":{"text":{"field":"label"}}},
{"data":{"values":[{"t":"2025-10-28T06:25","t2":"2026-01-10T03:30","p":0.1935}]},"mark":{"type":"rule","color":"#e0e3eb","strokeWidth":1.5},"encoding":{"x2":{"field":"t2"}}},
{"data":{"values":[{"t":"2025-10-28T05:48","p":0.4004,"label":"Leo524"},{"t":"2025-10-28T05:48","p":0.3932,"label":"BINANCE:FETUSDT.P, 240"},{"t":"2025-11-13T16:25","p":0.3932,"label":"O:"},{"t":"2025-11-16T16:30","p":0.3932,"label":"H:"},{"t":"2025-11-19T16:55","p":0.3932,"label":"L:"},{"t":"2025-11-22T17:15","p":0.3932,"label":"C:"}]},"mark":{"type":"text","fontSize":15.4,"fontWeight":700,"color":"#1e222d","align":"left","baseline":"middle"},"encoding":{"text":{"field":"label"}}},
{"data":{"values":[{"t":"2025-10-30T15:24","p":0.4004,"label":"published on TradingView.com, December 04, 2025 03:13:18 EST"}]},"mark":{"type":"text","fontSize":15.7,"color":"#2a2e39","align":"left","baseline":"middle"},"encoding":{"text":{"field":"label"}}},
{"data":{"values":[{"t":"2025-11-05T05:45","p":0.3932,"label":"0.2585"},{"t":"2025-11-08T04:50","p":0.3932,"label":"−0.0025 (−0.96%)"}]},"mark":{"type":"text","fontSize":15.4,"color":"#2a2e39","align":"left","baseline":"middle"},"encoding":{"text":{"field":"label"}}},
{"data":{"values":[{"t":"2025-11-14T09:55","p":0.3932,"label":"0.2590"},{"t":"2025-11-17T10:00","p":0.3932,"label":"0.2597"},{"t":"2025-11-20T05:40","p":0.3932,"label":"0.2576"},{"t":"2025-11-23T07:00","p":0.3932,"label":"0.2585"}]},"mark":{"type":"text","fontSize":15.4,"color":"#f23645","align":"left","baseline":"middle"},"encoding":{"text":{"field":"label"}}},
{"data":{"values":[{"t":"2025-11-07T16:15","p":0.3932}]},"mark":{"type":"point","shape":"triangle-down","filled":true,"size":110,"color":"#f23645","opacity":1}}
]},
{"encoding":{"y":{"field":"v","type":"quantitative","title":null,
"scale":{"domain":[20,80],"range":[847.3,725.3],"nice":false,"zero":false},
"axis":{"orient":"right","values":[80,60,40,20],"format":".2f","domain":false,"ticks":false,"grid":true,"gridColor":"#eeeef3","gridWidth":1,"labelPadding":11,"labelFont":"Open Sans","labelFontSize":14.5,"labelColor":"#6a6d78"}}},
"layer":[
{"data":{"values":[{"t":"2025-10-31T15:40","t2":"2026-01-07T11:00","v":70,"v2":30}]},"mark":{"type":"rect","fill":"#7e57c2","fillOpacity":0.1},"encoding":{"x2":{"field":"t2"},"y2":{"field":"v2"}}},
{"data":{"values":[{"t":"2025-10-31T15:40","t2":"2026-01-07T11:00","v":70},{"t":"2025-10-31T15:40","t2":"2026-01-07T11:00","v":30}]},"mark":{"type":"rule","color":"#787b86","strokeWidth":1,"strokeDash":[4,4]},"encoding":{"x2":{"field":"t2"}}},
{"data":{"values":[{"t":"2025-10-31T15:40","t2":"2026-01-07T11:00","v":50}]},"mark":{"type":"rule","color":"#b2b5be","strokeWidth":1,"strokeDash":[4,4]},"encoding":{"x2":{"field":"t2"}}},
{"data":{"name":"bars"},"transform":[{"filter":"datum.rsi>74"}],"mark":{"type":"area","color":{"gradient":"linear","x1":0,"y1":0,"x2":0,"y2":1,"stops":[{"offset":0,"color":"#7cc48c"},{"offset":1,"color":"#eef6ee"}]}},"encoding":{
"y":{"field":"rsi","type":"quantitative","title":null,"scale":{"domain":[20,80],"range":[847.3,725.3],"nice":false,"zero":false},
"axis":{"orient":"right","values":[80,60,40,20],"format":".2f","domain":false,"ticks":false,"grid":true,"gridColor":"#eeeef3","gridWidth":1,"labelPadding":11,"labelFont":"Open Sans","labelFontSize":14.5,"labelColor":"#6a6d78"}},"y2":{"datum":70}}},
{"data":{"name":"bars"},"mark":{"type":"line","color":"#7e57c2","strokeWidth":1.2},"encoding":{
"y":{"field":"rsi","type":"quantitative","title":null,"scale":{"domain":[20,80],"range":[847.3,725.3],"nice":false,"zero":false},
"axis":{"orient":"right","values":[80,60,40,20],"format":".2f","domain":false,"ticks":false,"grid":true,"gridColor":"#eeeef3","gridWidth":1,"labelPadding":11,"labelFont":"Open Sans","labelFontSize":14.5,"labelColor":"#6a6d78"}}}},
{"data":{"name":"bars"},"transform":[{"filter":"isValid(datum.ma)"}],"mark":{"type":"line","color":"#fdd835","strokeWidth":1.2},"encoding":{
"y":{"field":"ma","type":"quantitative","title":null,"scale":{"domain":[20,80],"range":[847.3,725.3],"nice":false,"zero":false},
"axis":{"orient":"right","values":[80,60,40,20],"format":".2f","domain":false,"ticks":false,"grid":true,"gridColor":"#eeeef3","gridWidth":1,"labelPadding":11,"labelFont":"Open Sans","labelFontSize":14.5,"labelColor":"#6a6d78"}}}},
{"data":{"values":[{"t":"2025-11-01T01:35","v":87,"label":"RSI (14, close)"}]},"mark":{"type":"text","fontSize":14.5,"color":"#50535e","align":"left","baseline":"middle"},"encoding":{"text":{"field":"label"}}},
{"data":{"values":[{"t":"2026-01-07T11:55","t2":"2026-01-09T17:25","v":59.1,"v2":48.8}]},"mark":{"type":"rect","fill":"#7e57c2","cornerRadius":2},"encoding":{"x2":{"field":"t2"},"y2":{"field":"v2"}}},
{"data":{"values":[{"t":"2026-01-07T11:55","t2":"2026-01-09T17:25","v":48.2,"v2":38.0}]},"mark":{"type":"rect","fill":"#fdd835","cornerRadius":2},"encoding":{"x2":{"field":"t2"},"y2":{"field":"v2"}}},
{"data":{"values":[{"t":"2026-01-08T14:50","v":54.1,"label":"53.84"}]},"mark":{"type":"text","fontSize":14.5,"color":"#ffffff","align":"center","baseline":"middle"},"encoding":{"text":{"field":"label"}}},
{"data":{"values":[{"t":"2026-01-08T14:50","v":43.0,"label":"52.72"}]},"mark":{"type":"text","fontSize":14.5,"color":"#000000","align":"center","baseline":"middle"},"encoding":{"text":{"field":"label"}}},
{"data":{"values":[{"t":"2025-10-30T00:00","v":9.8},{"t":"2026-01-08T19:50","v":9.8}]},"mark":{"type":"point","filled":true,"size":430,"color":"#f2f3f5","opacity":1}},
{"data":{"values":[{"t":"2025-10-30T00:00","v":9.8,"label":"Z"},{"t":"2026-01-08T19:50","v":9.8,"label":"A"}]},"mark":{"type":"text","fontSize":12,"color":"#50535e","align":"center","baseline":"middle"},"encoding":{"text":{"field":"label"}}},
{"data":{"values":[{"t":"2025-10-28T20:00","v":-9.9}]},"mark":{"type":"point","filled":true,"opacity":1,"size":900,"color":"#131722","shape":"M-1,-.444 H-.222 V.444 H-.611 V0 H-1 Z M-.111,-.222 A.222,.222 0 1 1 .333,-.222 A.222,.222 0 1 1 -.111,-.222 Z M.5,-.444 H1 L.556,.444 H.111 Z"}},
{"data":{"values":[{"t":"2025-10-29T18:30","v":-10.4,"label":"TradingView"}]},"mark":{"type":"text","font":"Roboto","fontSize":20,"fontWeight":700,"color":"#131722","align":"left","baseline":"middle"},"encoding":{"text":{"field":"label"}}}
]}
]}
